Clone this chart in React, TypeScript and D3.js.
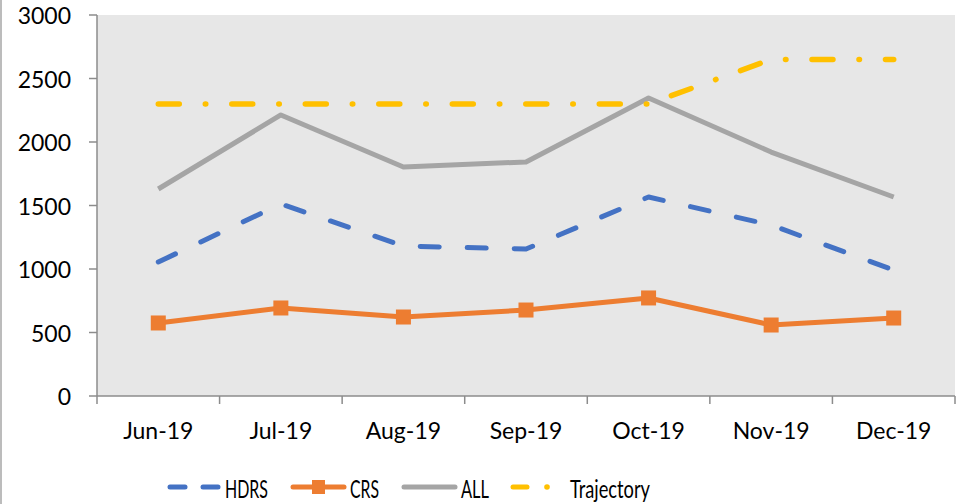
import * as d3 from 'd3';

const months = ['Jun-19', 'Jul-19', 'Aug-19', 'Sep-19', 'Oct-19', 'Nov-19', 'Dec-19'];
const hdrs = [1055, 1512, 1181, 1157, 1567, 1346, 992];
const crs = [575, 693, 622, 677, 772, 559, 614];
const all = [1630, 2213, 1803, 1843, 2346, 1921, 1567];
const trajectory = [2300, 2300, 2300, 2300, 2300, 2650, 2650];
const yTicks = [0, 500, 1000, 1500, 2000, 2500, 3000];

const W = 966;
const H = 504;
const plot = { left: 97, right: 955, top: 15, bottom: 396 };
const font = 'Lato, "Open Sans", sans-serif';
const axisColor = '#8c8c8c';

type Series = { name: string; values: number[]; color: string; dash?: string; marker?: boolean };

const series: Series[] = [
  { name: 'HDRS', values: hdrs, color: '#4472C4', dash: '19,28' },
  { name: 'CRS', values: crs, color: '#ED7D31', marker: true },
  { name: 'ALL', values: all, color: '#A5A5A5' },
  { name: 'Trajectory', values: trajectory, color: '#FFC000', dash: '21,26,0.5,26' },
];

// legend item positions (line start, line end, text start, text width)
const legendItems = [
  { x0: 170, x1: 220, tx: 225, tw: 43 },
  { x0: 293, x1: 344, tx: 350, tw: 29 },
  { x0: 404, x1: 455, tx: 461, tw: 28 },
  { x0: 513, x1: 563, tx: 570, tw: 80 },
];

export default function App() {
  const x = d3.scaleBand<string>().domain(months).range([plot.left, plot.right]).padding(0);
  const y = d3.scaleLinear().domain([0, 3000]).range([plot.bottom, plot.top]);
  const cx = (m: string) => (x(m) ?? 0) + x.bandwidth() / 2;

  const line = d3
    .line<number>()
    .x((_, i) => cx(months[i]))
    .y(d => y(d));

  const boundaries = [...months.map(m => x(m) ?? 0), plot.right];
  const legendY = 487;

  return (
    <svg width={W} height={H} style={{ display: 'block', position: 'absolute', left: 0, top: 0 }}>
      <rect x={0} y={0} width={W} height={H} fill="#fff" />
      <line x1={1} x2={1} y1={0} y2={H} stroke="#a6a6a6" strokeWidth={1.5} />
      <rect
        x={plot.left}
        y={plot.top}
        width={plot.right - plot.left}
        height={plot.bottom - plot.top}
        fill="#E7E7E7"
      />
      {/* y axis */}
      <line x1={plot.left} x2={plot.left} y1={plot.top} y2={plot.bottom} stroke={axisColor} strokeWidth={1.5} />
      {yTicks.map(t => (
        <g key={t}>
          <line x1={plot.left - 8} x2={plot.left} y1={y(t)} y2={y(t)} stroke={axisColor} strokeWidth={1.5} />
          <text
            x={71}
            y={y(t)}
            textAnchor="end"
            dominantBaseline="central"
            fontFamily={font}
            fontSize={23}
            fill="#000"
          >
            {t}
          </text>
        </g>
      ))}
      {/* x axis */}
      <line x1={plot.left} x2={plot.right} y1={plot.bottom} y2={plot.bottom} stroke={axisColor} strokeWidth={1.5} />
      {boundaries.map((b, i) => (
        <line key={i} x1={b} x2={b} y1={plot.bottom} y2={plot.bottom + 8} stroke={axisColor} strokeWidth={1.5} />
      ))}
      {months.map(m => (
        <text key={m} x={cx(m)} y={439} textAnchor="middle" fontFamily={font} fontSize={23} fill="#000">
          {m}
        </text>
      ))}
      {/* series */}
      {series.map(s => (
        <g key={s.name}>
          <path
            d={line(s.values) ?? ''}
            fill="none"
            stroke={s.color}
            strokeWidth={s.name === 'Trajectory' ? 5.5 : 5}
            strokeDasharray={s.dash}
            strokeLinecap={s.dash ? 'round' : 'butt'}
            strokeLinejoin="round"
          />
          {s.marker &&
            s.values.map((v, i) => (
              <rect key={i} x={cx(months[i]) - 7.5} y={y(v) - 7.5} width={15} height={15} fill={s.color} />
            ))}
        </g>
      ))}
      {/* legend */}
      {series.map((s, i) => {
        const it = legendItems[i];
        return (
          <g key={s.name}>
            {s.name === 'HDRS' && (
              <>
                <line x1={it.x0} x2={it.x0 + 15} y1={legendY} y2={legendY} stroke={s.color} strokeWidth={5} strokeLinecap="round" />
                <line x1={it.x1 - 17} x2={it.x1 - 2} y1={legendY} y2={legendY} stroke={s.color} strokeWidth={5} strokeLinecap="round" />
              </>
            )}
            {s.name === 'CRS' && (
              <>
                <line x1={it.x0} x2={it.x1} y1={legendY} y2={legendY} stroke={s.color} strokeWidth={5} strokeLinecap="round" />
                <rect x={(it.x0 + it.x1) / 2 - 6.5} y={legendY - 7} width={13} height={14} fill={s.color} />
              </>
            )}
            {s.name === 'ALL' && (
              <line x1={it.x0} x2={it.x1} y1={legendY} y2={legendY} stroke={s.color} strokeWidth={5} strokeLinecap="round" />
            )}
            {s.name === 'Trajectory' && (
              <>
                <line x1={it.x0} x2={it.x0 + 14} y1={legendY} y2={legendY} stroke={s.color} strokeWidth={5} strokeLinecap="round" />
                <circle cx={it.x1 - 16} cy={legendY} r={2.8} fill={s.color} />
              </>
            )}
            <text
              x={it.tx}
              y={legendY + 1}
              dominantBaseline="central"
              fontFamily={font}
              fontSize={25}
              textLength={it.tw}
              lengthAdjust="spacingAndGlyphs"
              fill="#000"
            >
              {s.name}
            </text>
          </g>
        );
      })}
    </svg>
  );
}
